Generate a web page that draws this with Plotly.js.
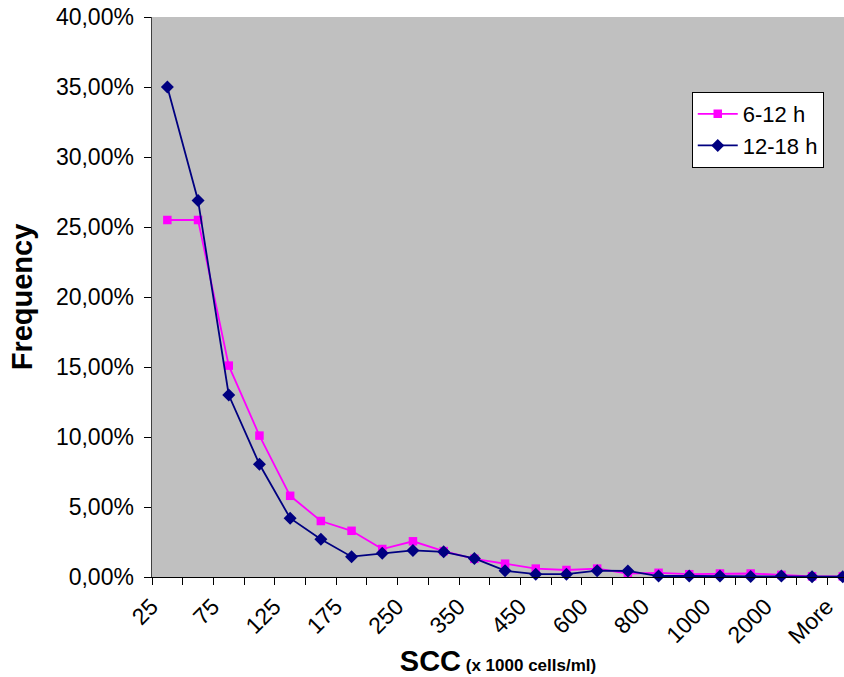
<!DOCTYPE html>
<html>
<head>
<meta charset="utf-8">
<script src="https://cdn.plot.ly/plotly-3.0.1.min.js"></script>
<style>
  html, body { margin: 0; padding: 0; background: #fff; overflow: hidden; }
  #chart { width: 844px; height: 677px; }
</style>
</head>
<body>
<div id="chart"></div>
<script>
// SCC classes (x 1000 cells/ml)
const sccClasses = ['25', '50', '75', '100', '125', '150', '175', '200', '250', '300', '350', '400',
                    '450', '500', '600', '700', '800', '900', '1000', '1500', '2000', '5000', 'More'];

// Relative frequency per class (percent)
const freq6to12 = [25.5, 25.5, 15.1, 10.1, 5.8, 4.0, 3.3, 2.0, 2.55, 1.85, 1.3, 0.95,
                   0.6, 0.5, 0.6, 0.25, 0.3, 0.2, 0.25, 0.25, 0.15, 0.05, 0.05];
const freq12to18 = [35.0, 26.9, 13.0, 8.05, 4.2, 2.7, 1.45, 1.7, 1.9, 1.8, 1.33, 0.45,
                    0.2, 0.2, 0.45, 0.43, 0.07, 0.07, 0.07, 0.03, 0.07, 0.02, 0.02];

const seriesNames = ['6-12 h', '12-18 h'];

// every other class gets a printed label
const tickLabels = sccClasses.map((c, i) => (i % 2 === 0 ? c : ''));

const FONT = 'Liberation Sans, Arial, sans-serif';

const traces = [
  {
    x: sccClasses,
    y: freq6to12.map(v => v / 100),
    name: seriesNames[0],
    type: 'scatter',
    mode: 'lines+markers',
    line: { color: '#FF00FF', width: 1.8 },
    marker: { symbol: 'square', size: 8.5, color: '#FF00FF' },
    cliponaxis: false
  },
  {
    x: sccClasses,
    y: freq12to18.map(v => v / 100),
    name: seriesNames[1],
    type: 'scatter',
    mode: 'lines+markers',
    line: { color: '#000080', width: 1.8 },
    marker: { symbol: 'diamond', size: 10, color: '#000080' },
    cliponaxis: false
  }
];

const layout = {
  width: 844,
  height: 677,
  margin: { l: 152, r: 0, t: 17, b: 100 },
  paper_bgcolor: '#FFFFFF',
  plot_bgcolor: '#C0C0C0',
  separators: ', ',
  font: { family: FONT, color: '#000', size: 22 },
  showlegend: true,
  legend: {
    x: 0.78, y: 0.866, xanchor: 'left', yanchor: 'top',
    bgcolor: '#FFFFFF', bordercolor: '#000', borderwidth: 1,
    font: { family: FONT, size: 22, color: '#000' },
    itemwidth: 40,
    traceorder: 'normal'
  },
  xaxis: {
    type: 'category',
    categoryorder: 'array',
    categoryarray: sccClasses,
    range: [-0.5, 22.04],
    tickmode: 'array',
    tickvals: sccClasses,
    ticktext: tickLabels,
    tickson: 'boundaries',
    ticks: 'outside',
    ticklen: 7,
    tickwidth: 1,
    tickcolor: '#000',
    tickangle: -45,
    ticklabelstandoff: 6,
    ticklabelshift: -16,
    tickfont: { family: FONT, size: 23, color: '#000' },
    showline: true,
    linecolor: '#000',
    linewidth: 1,
    showgrid: false,
    zeroline: false,
    automargin: false,
    title: {
      text: '<b>SCC</b><b><span style="font-size:17px"> (x 1000 cells/ml)</span></b>',
      font: { family: FONT, size: 29, color: '#000' },
      standoff: 8
    }
  },
  // inner half of the crossing category ticks
  xaxis2: {
    overlaying: 'x',
    anchor: 'y',
    type: 'linear',
    range: [-0.5, 22.04],
    tickmode: 'linear',
    tick0: 0.5,
    dtick: 1,
    ticks: 'inside',
    ticklen: 7,
    tickwidth: 1,
    tickcolor: '#000',
    showticklabels: false,
    showgrid: false,
    zeroline: false,
    showline: false
  },
  yaxis: {
    range: [0, 0.4],
    tickmode: 'linear',
    tick0: 0,
    dtick: 0.05,
    tickformat: '.2%',
    ticks: 'outside',
    ticklen: 7,
    tickwidth: 1,
    tickcolor: '#000',
    ticklabelstandoff: 5,
    tickfont: { family: FONT, size: 23, color: '#000' },
    showline: true,
    linecolor: '#404040',
    linewidth: 1.5,
    showgrid: false,
    zeroline: false,
    automargin: false,
    title: {
      text: '<b>Frequency</b>',
      font: { family: FONT, size: 29, color: '#000' },
      standoff: 14
    }
  }
};

Plotly.newPlot('chart', traces, layout, { displayModeBar: false, staticPlot: true });
</script>
</body>
</html>
